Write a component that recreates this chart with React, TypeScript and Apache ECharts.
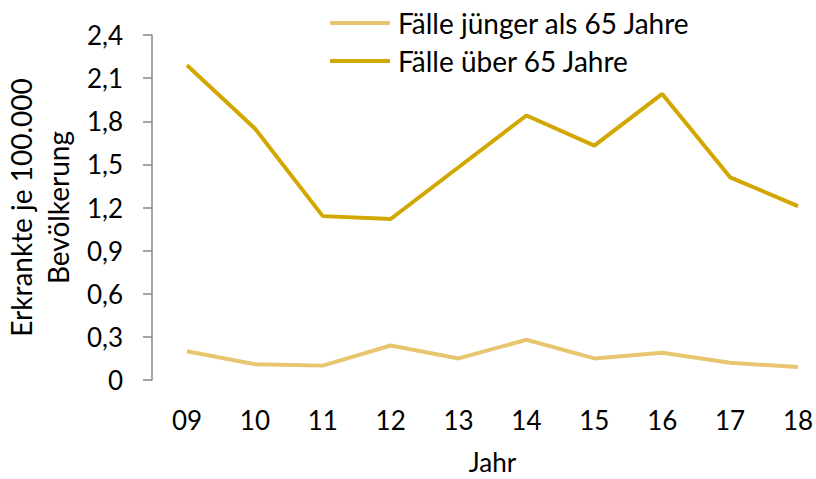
import React, { useEffect, useRef } from "react";
import * as echarts from "echarts";

const years = ["09", "10", "11", "12", "13", "14", "15", "16", "17", "18"];
const youngerSeries = [0.2, 0.11, 0.1, 0.24, 0.15, 0.28, 0.15, 0.19, 0.12, 0.09];
const olderSeries = [2.19, 1.75, 1.14, 1.12, 1.48, 1.84, 1.63, 1.99, 1.41, 1.21];
const seriesNames = ["Fälle jünger als 65 Jahre", "Fälle über 65 Jahre"];
const yTitle = "Erkrankte je 100.000\nBevölkerung";
const xTitle = "Jahr";

const FONT = "Lato";
const FS_NUM = 26;
const FS_TXT = 28;

export default function App() {
  const ref = useRef<HTMLDivElement>(null);
  useEffect(() => {
    if (!ref.current) return;
    const chart = echarts.init(ref.current, undefined, { renderer: "svg", width: 816, height: 479 });
    chart.setOption({
      animation: false,
      textStyle: { fontFamily: FONT },
      legend: {
        orient: "vertical",
        left: 325,
        top: 2,
        itemWidth: 60,
        itemHeight: 14,
        itemGap: 6,
        icon: "path://M0,0 L60,0 L60,4 L0,4 Z",
        textStyle: { fontFamily: FONT, fontSize: FS_TXT, color: "#000", lineHeight: 32, padding: [0, 0, 0, 3] },
        data: seriesNames,
      },
      grid: { left: 187, right: 18, top: 35, bottom: 99, containLabel: false, outerBoundsMode: "none" },
      xAxis: {
        type: "category",
        data: years,
        boundaryGap: false,
        axisLine: { show: false },
        axisTick: { show: false },
        axisLabel: { fontFamily: FONT, fontSize: FS_NUM, color: "#000", margin: 27 },
        name: xTitle,
        nameLocation: "middle",
        nameGap: 71,
        nameTextStyle: { fontFamily: FONT, fontSize: 26, color: "#000", lineHeight: 22 },
      },
      yAxis: {
        type: "value",
        min: 0,
        max: 2.4,
        interval: 0.3,
        offset: 35,
        axisLine: { show: true, lineStyle: { color: "#878787", width: 1.5 } },
        axisTick: { show: true, length: 9, lineStyle: { color: "#878787", width: 1.5 } },
        splitLine: { show: false },
        axisLabel: {
          fontFamily: FONT,
          fontSize: FS_NUM,
          color: "#000",
          margin: 29,
          formatter: (v: number) => (v === 0 ? "0" : v.toFixed(1).replace(".", ",")),
        },
        name: yTitle,
        nameLocation: "middle",
        nameGap: 71,
        nameRotate: 90,
        nameTextStyle: { fontFamily: FONT, fontSize: FS_TXT, color: "#000", lineHeight: 37 },
      },
      series: [
        {
          name: seriesNames[0],
          type: "line",
          data: youngerSeries,
          showSymbol: false,
          symbol: "none",
          lineStyle: { color: "#E8C66F", width: 4 },
          itemStyle: { color: "#E8C66F" },
        },
        {
          name: seriesNames[1],
          type: "line",
          data: olderSeries,
          showSymbol: false,
          symbol: "none",
          lineStyle: { color: "#D2A702", width: 4 },
          itemStyle: { color: "#D2A702" },
        },
      ],
    });
    return () => chart.dispose();
  }, []);
  return (
    <div
      ref={ref}
      style={{ position: "absolute", left: 0, top: 0, width: 816, height: 479 }}
    />
  );
}
